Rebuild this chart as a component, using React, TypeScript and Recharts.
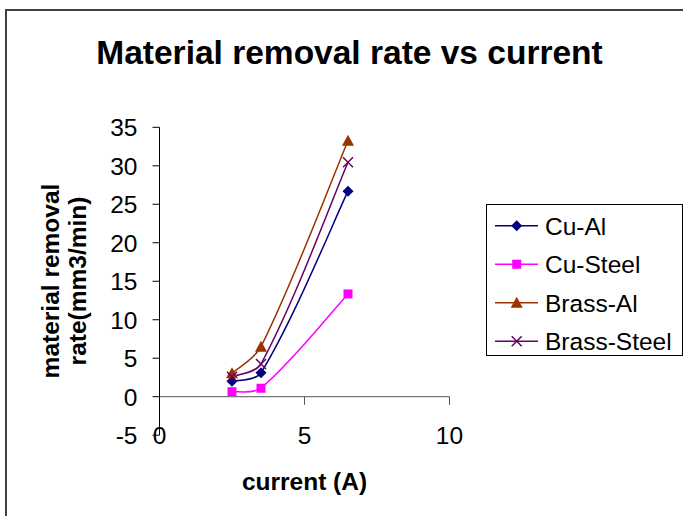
import { Label, Legend, Line, LineChart, ReferenceLine, XAxis, YAxis } from "recharts";

const CURRENT = [2.5, 3.5, 6.5];
const CU_AL = [2.0, 3.1, 26.7];
const CU_STEEL = [0.65, 1.1, 13.35];
const BRASS_AL = [3.05, 6.5, 33.25];
const BRASS_STEEL = [2.6, 4.25, 30.45];

const X_TICKS = [0, 5, 10];
const Y_TICKS = [-5, 0, 5, 10, 15, 20, 25, 30, 35];

type Marker = "diamond" | "square" | "triangle" | "cross";

const SERIES: { name: string; values: number[]; color: string; marker: Marker }[] = [
  { name: "Cu-Al", values: CU_AL, color: "#000080", marker: "diamond" },
  { name: "Cu-Steel", values: CU_STEEL, color: "#FF00FF", marker: "square" },
  { name: "Brass-Al", values: BRASS_AL, color: "#993300", marker: "triangle" },
  { name: "Brass-Steel", values: BRASS_STEEL, color: "#660066", marker: "cross" },
];

const FONT = "'Liberation Sans', Arial, sans-serif";

const toPoints = (ys: number[]) => CURRENT.map((x, i) => ({ x, y: ys[i] }));

// smoothed line like excel: bezier handles along (next - prev), weighted by segment length
function excelSmooth(context: any) {
  let pts: [number, number][] = [];
  const dist = (a: [number, number], b: [number, number]) => Math.hypot(b[0] - a[0], b[1] - a[1]);
  return {
    areaStart() {},
    areaEnd() {},
    lineStart() {
      pts = [];
    },
    point(x: number, y: number) {
      pts.push([+x, +y]);
    },
    lineEnd() {
      const n = pts.length;
      if (!n) return;
      context.moveTo(pts[0][0], pts[0][1]);
      for (let i = 0; i < n - 1; i++) {
        const p0 = pts[Math.max(i - 1, 0)];
        const p1 = pts[i];
        const p2 = pts[i + 1];
        const p3 = pts[Math.min(i + 2, n - 1)];
        const d01 = dist(p0, p1);
        const d12 = dist(p1, p2);
        const d23 = dist(p2, p3);
        const wa = d01 + d12 > 0 && i > 0 ? d12 / (d01 + d12) / 3 : 1 / 6;
        const wb = d12 + d23 > 0 && i + 2 < n ? d12 / (d12 + d23) / 3 : 1 / 6;
        context.bezierCurveTo(
          p1[0] + (p2[0] - p0[0]) * wa,
          p1[1] + (p2[1] - p0[1]) * wa,
          p2[0] - (p3[0] - p1[0]) * wb,
          p2[1] - (p3[1] - p1[1]) * wb,
          p2[0],
          p2[1]
        );
      }
    },
  };
}

function MarkerShape({ cx, cy, marker, color }: { cx: number; cy: number; marker: Marker; color: string }) {
  if (marker === "diamond") {
    return (
      <polygon
        points={`${cx},${cy - 5.5} ${cx + 5.5},${cy} ${cx},${cy + 5.5} ${cx - 5.5},${cy}`}
        fill={color}
      />
    );
  }
  if (marker === "square") {
    return <rect x={cx - 4.5} y={cy - 4.5} width={9} height={9} fill={color} />;
  }
  if (marker === "triangle") {
    return <polygon points={`${cx},${cy - 6} ${cx + 6},${cy + 5} ${cx - 6},${cy + 5}`} fill={color} />;
  }
  return (
    <g stroke={color} strokeWidth={1.5}>
      <line x1={cx - 5} y1={cy - 5} x2={cx + 5} y2={cy + 5} />
      <line x1={cx - 5} y1={cy + 5} x2={cx + 5} y2={cy - 5} />
    </g>
  );
}

const YTick = ({ x, y, payload }: any) => (
  <text x={x} y={y + 8.8} textAnchor="end" fontFamily={FONT} fontSize={24.5} fill="#000">
    {payload.value}
  </text>
);

const XTick = ({ x, y, payload }: any) => (
  <text x={x} y={y + 8.8} textAnchor="middle" fontFamily={FONT} fontSize={24.5} fill="#000">
    {payload.value}
  </text>
);

const LegendBox = () => (
  <svg width={197} height={152} style={{ display: "block" }}>
    <rect x={0.5} y={0.5} width={196} height={151} fill="#fff" stroke="#000" strokeWidth={1} />
    {SERIES.map((s, i) => {
      const cy = 21.7 + i * 38.5;
      return (
        <g key={s.name}>
          <line x1={9} y1={cy} x2={52} y2={cy} stroke={s.color} strokeWidth={1.5} />
          <MarkerShape cx={30.7} cy={cy} marker={s.marker} color={s.color} />
          <text x={59} y={cy + 8.8} fontFamily={FONT} fontSize={24.5} fill="#000">
            {s.name}
          </text>
        </g>
      );
    })}
  </svg>
);

export default function App() {
  return (
    <div
      style={{
        position: "fixed",
        left: 0,
        top: 0,
        width: 683,
        height: 516,
        overflow: "hidden",
        background: "#fff",
      }}
    >
      <div
        style={{
          position: "absolute",
          left: 5,
          top: 9,
          width: 800,
          height: 600,
          border: "2px solid #404040",
        }}
      />
      <div
        style={{
          position: "absolute",
          left: 0,
          top: 35.5,
          width: 699,
          textAlign: "center",
          fontFamily: FONT,
          fontWeight: "bold",
          fontSize: 33.5,
          lineHeight: "34px",
          whiteSpace: "nowrap",
          color: "#000",
        }}
      >
        Material removal rate vs current
      </div>
      <div style={{ position: "absolute", left: 0, top: 0 }}>
        <LineChart
          width={683}
          height={516}
          margin={{ top: 127.3, right: 233.5, bottom: 50.8, left: 0.5 }}
        >
          <XAxis
            type="number"
            dataKey="x"
            domain={[0, 10]}
            ticks={X_TICKS}
            height={30}
            axisLine={false}
            tickLine={false}
            tickSize={0}
            tickMargin={0}
            tick={<XTick />}
            allowDuplicatedCategory={false}
          >
            <Label
              content={() => (
                <text x={304.5} y={490} textAnchor="middle" fontFamily={FONT} fontSize={24.5} fontWeight="bold" fill="#000">
                  current (A)
                </text>
              )}
            />
          </XAxis>
          <YAxis
            type="number"
            domain={[-5, 35]}
            ticks={Y_TICKS}
            width={159}
            axisLine={{ stroke: "#000", strokeWidth: 1 }}
            tickLine={{ stroke: "#000", strokeWidth: 1 }}
            tickSize={7}
            tickMargin={15}
            tick={<YTick />}
            allowDataOverflow
          >
            <Label
              content={() => (
                <g fontFamily={FONT} fontSize={24.5} fontWeight="bold" fill="#000">
                  <text transform="translate(59,281) rotate(-90)" textAnchor="middle">
                    material removal
                  </text>
                  <text transform="translate(86,281) rotate(-90)" textAnchor="middle">
                    rate(mm3/min)
                  </text>
                </g>
              )}
            />
          </YAxis>
          <ReferenceLine y={0} stroke="#555" strokeWidth={1} ifOverflow="extendDomain" />
          {X_TICKS.map((t) => (
            <ReferenceLine
              key={t}
              segment={[
                { x: t, y: 0 },
                { x: t, y: -1.05 },
              ]}
              stroke="#555"
              strokeWidth={1}
            />
          ))}
          {SERIES.map((s) => (
            <Line
              key={s.name}
              name={s.name}
              data={toPoints(s.values)}
              dataKey="y"
              type={excelSmooth as any}
              stroke={s.color}
              strokeWidth={1.5}
              isAnimationActive={false}
              activeDot={false}
              dot={(p: any) => (
                <MarkerShape key={`${s.name}-${p.index}`} cx={p.cx} cy={p.cy} marker={s.marker} color={s.color} />
              )}
            />
          ))}
          <Legend
            layout="vertical"
            align="center"
            verticalAlign="middle"
            wrapperStyle={{ left: 486, top: 204, width: 197, height: 152 }}
            content={() => <LegendBox />}
          />
        </LineChart>
      </div>
    </div>
  );
}
